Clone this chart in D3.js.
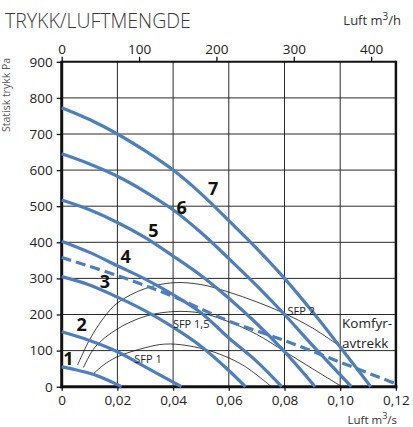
<!DOCTYPE html>
<html>
<head>
<meta charset="utf-8">
<script src="https://cdn.jsdelivr.net/npm/d3@7"></script>
<style>
  body { margin: 0; background: #fff; }
  svg { display: block; font-family: "Open Sans", "Noto Sans", sans-serif; }
</style>
</head>
<body>
<div id="chart"></div>
<script>
"use strict";

// ─── Data ────────────────────────────────────────────────────────────────────
// fan curves: [flow m3/s, static pressure Pa]
const curve1 = [[0, 55], [0.005, 47], [0.011, 35], [0.016, 20], [0.0215, 0]];
const curve2 = [[0, 152], [0.01, 128], [0.02, 97], [0.03, 55], [0.043, 0]];
const curve3 = [[0, 305], [0.01, 282], [0.02, 248], [0.03, 210], [0.04, 165], [0.05, 112], [0.06, 45], [0.066, 0]];
const curve4 = [[0, 403], [0.01, 372], [0.02, 335], [0.03, 298], [0.04, 255], [0.05, 205], [0.06, 135], [0.07, 70], [0.079, 0]];
const curve5 = [[0, 517], [0.01, 490], [0.02, 455], [0.03, 413], [0.04, 362], [0.05, 308], [0.06, 245], [0.07, 175], [0.08, 97], [0.091, 0]];
const curve6 = [[0, 645], [0.01, 617], [0.02, 583], [0.03, 540], [0.04, 490], [0.05, 427], [0.06, 355], [0.07, 280], [0.08, 200], [0.09, 115], [0.104, 0]];
const curve7 = [[0, 773], [0.01, 740], [0.02, 700], [0.03, 653], [0.04, 600], [0.05, 535], [0.06, 460], [0.07, 383], [0.08, 300], [0.09, 208], [0.10, 110], [0.111, 0]];
const komfyr = [[0, 358], [0.02, 308], [0.04, 250], [0.06, 182], [0.08, 128], [0.10, 68], [0.12, 8]];

// SFP contours
const sfp1  = [[0.0113, 35], [0.015, 60], [0.02, 83], [0.03, 108], [0.037, 118], [0.045, 114], [0.055, 95], [0.065, 60], [0.075, 2]];
const sfp15 = [[0.0078, 53], [0.012, 110], [0.02, 160], [0.03, 195], [0.04, 208], [0.05, 204], [0.06, 180], [0.07, 145], [0.08, 98], [0.09, 50], [0.10, 3]];
const sfp2  = [[0.0057, 60], [0.01, 130], [0.015, 190], [0.02, 232], [0.03, 272], [0.04, 288], [0.05, 283], [0.06, 262], [0.07, 235], [0.08, 203], [0.09, 163], [0.0993, 115]];

const fanCurves = [curve1, curve2, curve3, curve4, curve5, curve6, curve7];
const curveNames = ["1", "2", "3", "4", "5", "6", "7"];
const curveLabelAt = [[0.0024, 79], [0.0072, 173], [0.0155, 293], [0.023, 363], [0.0329, 434], [0.0431, 499], [0.0544, 550]];

const sfpNames = ["SFP 1", "SFP 1,5", "SFP 2"];
const sfpLabelAt = [[0.031, 77], [0.0465, 176], [0.086, 212]];

const xTicks = [0, 0.02, 0.04, 0.06, 0.08, 0.10, 0.12];   // m3/s
const yTicks = [0, 100, 200, 300, 400, 500, 600, 700, 800, 900];
const topTicks = [0, 100, 200, 300, 400];                   // m3/h

// ─── Layout ──────────────────────────────────────────────────────────────────
const W = 413, H = 427;
const mLeft = 61.7, mRight = 395.9, mTop = 61.8, mBottom = 386.7;
const BLUE = "#4b7fc1";

const svg = d3.select("#chart").append("svg")
  .attr("width", W).attr("height", H);

const x = d3.scaleLinear().domain([0, 0.12]).range([mLeft, mRight]);
const y = d3.scaleLinear().domain([0, 900]).range([mBottom, mTop]);
const xh = d3.scaleLinear().domain([0, 0.12 * 3600]).range([mLeft, mRight]); // m3/h

const fmtComma = (d) => d === 0 ? "0" : d.toFixed(2).replace(".", ",");

// Grid
svg.append("g")
  .selectAll("line")
  .data(xTicks.slice(1, -1))
  .join("line")
  .attr("x1", (d) => x(d)).attr("x2", (d) => x(d))
  .attr("y1", mTop).attr("y2", mBottom)
  .attr("stroke", "#2a2a2a").attr("stroke-width", 1);

svg.append("g")
  .selectAll("line")
  .data(yTicks.slice(1, -1))
  .join("line")
  .attr("x1", mLeft).attr("x2", mRight)
  .attr("y1", (d) => y(d)).attr("y2", (d) => y(d))
  .attr("stroke", "#2a2a2a").attr("stroke-width", 1);

// Axes
const yAxis = svg.append("g")
  .attr("transform", `translate(${mLeft},0)`)
  .call(d3.axisLeft(y).tickValues(yTicks).tickSize(5).tickPadding(4));
const xAxis = svg.append("g")
  .attr("transform", `translate(0,${mBottom})`)
  .call(d3.axisBottom(x).tickValues(xTicks).tickFormat(fmtComma).tickSize(4).tickPadding(5));
const topAxis = svg.append("g")
  .attr("transform", `translate(0,${mTop})`)
  .call(d3.axisTop(xh).tickValues(topTicks).tickSize(5).tickPadding(3));

[yAxis, xAxis, topAxis].forEach((g) => {
  g.select(".domain").remove();
  g.selectAll(".tick line").attr("stroke", "#111").attr("stroke-width", 1.3);
  g.selectAll(".tick text")
    .attr("fill", "#222")
    .style("font-size", "13.5px")
    .style("font-family", "'Open Sans', sans-serif");
});

// Frame
svg.append("line").attr("x1", mLeft).attr("x2", mLeft).attr("y1", mTop - 1).attr("y2", mBottom + 1.5)
  .attr("stroke", "#111").attr("stroke-width", 3);
svg.append("line").attr("x1", mLeft - 1.5).attr("x2", mRight + 1.5).attr("y1", mBottom).attr("y2", mBottom)
  .attr("stroke", "#111").attr("stroke-width", 3);
svg.append("line").attr("x1", mRight).attr("x2", mRight).attr("y1", mTop - 1).attr("y2", mBottom + 1.5)
  .attr("stroke", "#111").attr("stroke-width", 2.5);
svg.append("line").attr("x1", mLeft).attr("x2", mRight).attr("y1", mTop).attr("y2", mTop)
  .attr("stroke", "#111").attr("stroke-width", 2);

const line = d3.line()
  .x((d) => x(d[0]))
  .y((d) => y(d[1]))
  .curve(d3.curveCatmullRom.alpha(0.5));

// SFP contours
svg.append("g")
  .selectAll("path")
  .data([sfp1, sfp15, sfp2])
  .join("path")
  .attr("d", line)
  .attr("fill", "none")
  .attr("stroke", "#111")
  .attr("stroke-width", 0.8);

// Fan curves
svg.append("g")
  .selectAll("path")
  .data(fanCurves)
  .join("path")
  .attr("d", line)
  .attr("fill", "none")
  .attr("stroke", BLUE)
  .attr("stroke-width", 3.2);

// Komfyravtrekk (dashed)
svg.append("path")
  .datum(komfyr)
  .attr("d", line)
  .attr("fill", "none")
  .attr("stroke", BLUE)
  .attr("stroke-width", 3.2)
  .attr("stroke-dasharray", "10,5");

// Curve numbers
svg.append("g")
  .selectAll("text")
  .data(curveNames)
  .join("text")
  .attr("x", (d, i) => x(curveLabelAt[i][0]))
  .attr("y", (d, i) => y(curveLabelAt[i][1]))
  .attr("text-anchor", "middle")
  .attr("dominant-baseline", "central")
  .attr("fill", "#111")
  .style("font-size", "18px")
  .style("font-weight", "700")
  .text((d) => d);

// SFP labels
svg.append("g")
  .selectAll("text")
  .data(sfpNames)
  .join("text")
  .attr("x", (d, i) => x(sfpLabelAt[i][0]))
  .attr("y", (d, i) => y(sfpLabelAt[i][1]))
  .attr("text-anchor", "middle")
  .attr("dominant-baseline", "central")
  .attr("fill", "#222")
  .style("font-size", "11px")
  .text((d) => d);

svg.append("text")
  .attr("x", 342).attr("y", 328)
  .attr("fill", "#222").style("font-size", "13.5px")
  .text("Komfyr-");
svg.append("text")
  .attr("x", 342).attr("y", 348)
  .attr("fill", "#222").style("font-size", "13.5px")
  .text("avtrekk");

// Titles
svg.append("text")
  .attr("x", 5).attr("y", 28)
  .attr("fill", "#3a3a3a")
  .style("font-size", "19.5px")
  .style("font-weight", "300")
  .text("TRYKK/LUFTMENGDE");

const unitTop = svg.append("text")
  .attr("x", 401).attr("y", 25)
  .attr("text-anchor", "end")
  .attr("fill", "#333")
  .style("font-size", "13px");
unitTop.append("tspan").text("Luft m");
unitTop.append("tspan").attr("dy", -5).style("font-size", "10px").text("3");
unitTop.append("tspan").attr("dy", 5).text("/h");

const unitBottom = svg.append("text")
  .attr("x", 397).attr("y", 424)
  .attr("text-anchor", "end")
  .attr("fill", "#333")
  .style("font-size", "11.5px");
unitBottom.append("tspan").text("Luft m");
unitBottom.append("tspan").attr("dy", -5).style("font-size", "9px").text("3");
unitBottom.append("tspan").attr("dy", 5).text("/s");

svg.append("text")
  .attr("transform", "translate(10,95) rotate(-90)")
  .attr("text-anchor", "middle")
  .attr("fill", "#555")
  .style("font-size", "10.5px")
  .text("Statisk trykk Pa");
</script>
</body>
</html>
